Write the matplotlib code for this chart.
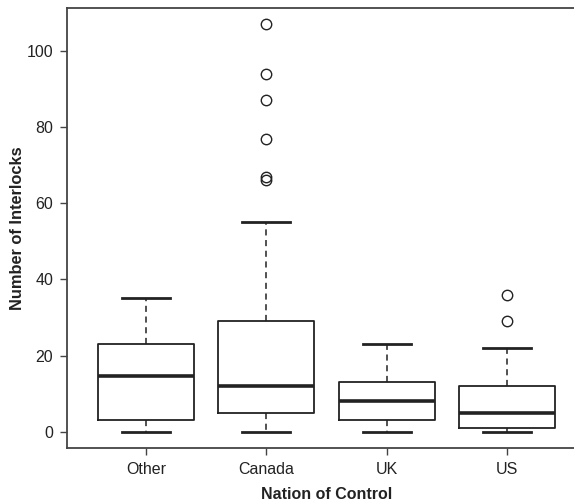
import matplotlib
matplotlib.use('Agg')
import matplotlib.pyplot as plt

# box statistics
nations   = ['Other', 'Canada', 'UK', 'US']
whislo    = [0, 0, 0, 0]
q1        = [3, 5, 3, 1]
medians   = [14.5, 12, 8, 5]
q3        = [23, 29, 13, 12]
whishi    = [35, 55, 23, 22]
outliers  = [[], [66, 67, 77, 87, 94, 107], [], [29, 36]]
yticks    = [0, 20, 40, 60, 80, 100]

plt.rcParams['font.family'] = ['Liberation Sans', 'DejaVu Sans']

fig = plt.figure(figsize=(5.74, 5.03), dpi=100)
ax = fig.add_axes([67/574, 55/503, 519/574, 440/503])

stats = []
for i, name in enumerate(nations):
    stats.append(dict(label=name, whislo=whislo[i], q1=q1[i], med=medians[i],
                      q3=q3[i], whishi=whishi[i], fliers=outliers[i]))

ax.bxp(stats, positions=range(1, len(nations) + 1), widths=0.8,
       showfliers=True,
       boxprops=dict(color='#222222', linewidth=1.3),
       medianprops=dict(color='#222222', linewidth=2.6, solid_capstyle='butt'),
       whiskerprops=dict(color='#222222', linewidth=1.1, linestyle=(0, (4, 3))),
       capprops=dict(color='#222222', linewidth=2.0),
       capwidths=0.4,
       flierprops=dict(marker='o', markersize=7.5, markerfacecolor='none',
                       markeredgecolor='#222222', markeredgewidth=1.0))

ax.set_xlim(0.34, 4.66)
ax.set_ylim(-4.28, 111.28)
ax.set_yticks(yticks)
ax.set_xticks(range(1, len(nations) + 1))
ax.set_xticklabels(nations)

for s in ['left', 'bottom', 'top']:
    ax.spines[s].set_color('#444444')
    ax.spines[s].set_linewidth(1.3)
ax.spines['right'].set_visible(False)

ax.tick_params(axis='both', direction='out', length=5, width=1, color='#444444',
               labelsize=11.5, labelcolor='#222222', pad=5)

ax.set_xlabel('Nation of Control', fontsize=11.5, fontweight='bold', color='#222222', labelpad=7)
ax.set_ylabel('Number of Interlocks', fontsize=11.8, fontweight='bold', color='#222222', labelpad=1)

fig.savefig('out.png', dpi=100)
